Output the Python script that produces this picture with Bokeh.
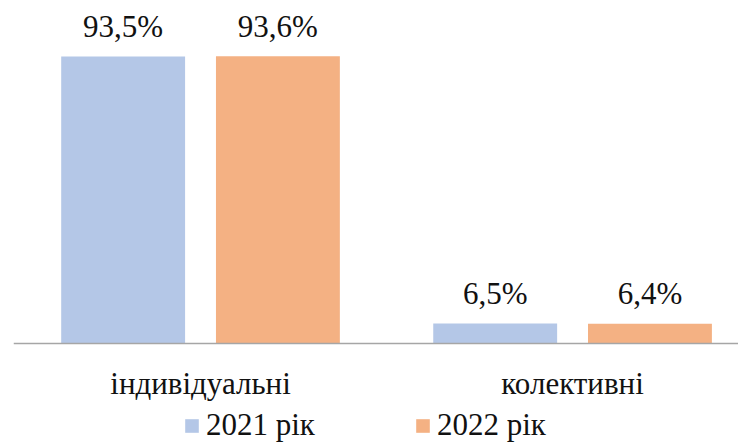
from bokeh.plotting import figure
from bokeh.models import ColumnDataSource, Range1d, FixedTicker, Legend, LegendItem
from bokeh.transform import dodge
from bokeh.core.properties import value
from bokeh.embed import file_html
from bokeh.resources import INLINE

categories = ["індивідуальні", "колективні"]
series_names = ["2021 рік", "2022 рік"]
values_2021 = [93.5, 6.5]
values_2022 = [93.6, 6.4]
colors = ["#B4C7E7", "#F4B183"]


def fmt(v):
    return f"{v:.1f}".replace(".", ",") + "%"


xpos = list(range(len(categories)))
src = ColumnDataSource(dict(
    x=xpos,
    v21=values_2021, v22=values_2022,
    t21=[fmt(v) for v in values_2021], t22=[fmt(v) for v in values_2022],
))

FONT = "'Liberation Serif', 'Times New Roman', serif"
FS = "31px"

p = figure(width=738, height=442, output_backend="svg", toolbar_location=None,
           x_range=Range1d(-0.5027, 1.446), y_range=Range1d(-32.25, 111.73),
           y_axis_location=None,
           min_border_left=13, min_border_right=0, min_border_top=0, min_border_bottom=0)
p.outline_line_color = None
p.xgrid.visible = False
p.ygrid.visible = False

off = 0.208
bw = 0.333
r1 = p.vbar(x=dodge("x", -off), top="v21", width=bw, source=src,
            fill_color=colors[0], line_color=None)
r2 = p.vbar(x=dodge("x", off), top="v22", width=bw, source=src,
            fill_color=colors[1], line_color=None)

for dx, col in ((-off, "21"), (off, "22")):
    p.text(x=dodge("x", dx), y="v" + col, text="t" + col, source=src,
           text_align="center", text_baseline="alphabetic", y_offset=-30,
           text_font=value(FONT), text_font_size=FS, text_color="#111111")

ax = p.xaxis[0]
ax.fixed_location = 0
ax.ticker = FixedTicker(ticks=xpos)
ax.major_label_overrides = {i: c for i, c in enumerate(categories)}
ax.major_tick_line_color = None
ax.minor_tick_line_color = None
ax.axis_line_color = "#a6a6a6"
ax.axis_line_width = 1.5
ax.major_label_text_font = FONT
ax.major_label_text_font_size = FS
ax.major_label_text_color = "#111111"
ax.major_label_standoff = 17

legend = Legend(items=[LegendItem(label=series_names[0], renderers=[r1]),
                       LegendItem(label=series_names[1], renderers=[r2])],
                orientation="horizontal", location=(170, -1),
                glyph_width=17, glyph_height=17, label_standoff=6, spacing=99,
                padding=0, margin=0, border_line_color=None, background_fill_alpha=0,
                label_text_font=FONT, label_text_font_size=FS, label_text_color="#111111")
p.add_layout(legend)

open("out.html", "w").write(file_html(p, INLINE))
